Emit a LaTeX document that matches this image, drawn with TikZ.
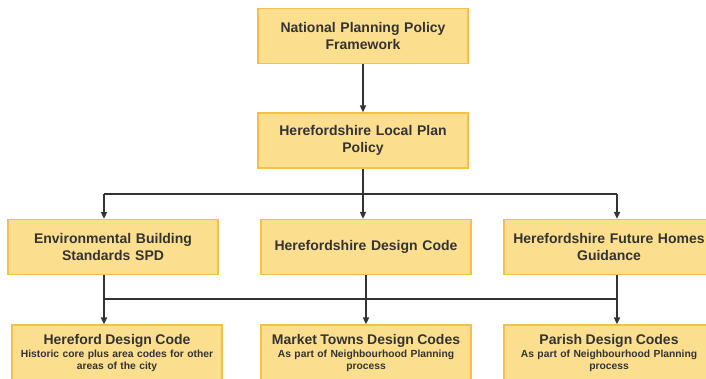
\documentclass[tikz,border=0pt]{standalone}
\usepackage{fontspec}
\setmainfont{Liberation Sans}
\usepackage{xcolor}
\usetikzlibrary{arrows.meta}
\definecolor{boxfill}{HTML}{FBDF8F}
\definecolor{boxline}{HTML}{F3C04A}
\definecolor{ink}{HTML}{333333}

\begin{document}
\begin{tikzpicture}[x=1pt,y=-1pt,
  box/.style={draw=boxline,line width=1.2pt,fill=boxfill,minimum width=210pt,minimum height=55pt,inner sep=2pt,text width=204pt,align=center,text=ink,font=\fontsize{14}{17}\selectfont\bfseries},
  code/.style={box,font=\fontsize{10.3}{12}\selectfont\bfseries},
  link/.style={draw=ink,line width=1.6pt},
  arr/.style={link,-{Triangle[length=7pt,width=6pt]}}]
\fill[white] (0,0) rectangle (706,379);
\useasboundingbox (0,0) rectangle (706,379);

\node[box] (nppf) at (363,36) {National Planning Policy\\Framework};
\node[box] (local) at (363,140.5) {Herefordshire Local Plan\\Policy};
\node[box] (env) at (113,247) {Environmental Building\\Standards SPD};
\node[box] (hdc) at (366,247) {Herefordshire Design Code};
\node[box] (future) at (609,247) {Herefordshire Future Homes\\Guidance};
\node[code] (hereford) at (117,352.5) {{\fontsize{14}{14}\selectfont Hereford Design Code}\\[1pt]Historic core plus area codes for other\\areas of the city};
\node[code] (market) at (366,352.5) {{\fontsize{14}{14}\selectfont Market Towns Design Codes}\\[1pt]As part of Neighbourhood Planning\\process};
\node[code] (parish) at (609,352.5) {{\fontsize{14}{14}\selectfont Parish Design Codes}\\[1pt]As part of Neighbourhood Planning\\process};

\coordinate (b1l) at (104,194);
\coordinate (b1r) at (617,194);
\coordinate (b2l) at (104,299);
\coordinate (b2r) at (617,299);

\draw[arr] (nppf) -- (local);
\draw[link] (local.south) -- (local.south |- b1l);
\draw[link] (b1l) -- (b1r);
\draw[arr] (b1l) -- (b1l |- env.north);
\draw[arr] (local.south |- b1l) -- (local.south |- hdc.north);
\draw[arr] (b1r) -- (b1r |- future.north);

\draw[link] (b2l |- env.south) -- (b2l) -- (b2r) -- (b2r |- future.south);
\draw[link] (hdc.south) -- (hdc.south |- b2l);
\draw[arr] (b2l) -- (b2l |- hereford.north);
\draw[arr] (hdc.south |- b2l) -- (hdc.south |- market.north);
\draw[arr] (b2r) -- (b2r |- parish.north);
\end{tikzpicture}
\end{document}
